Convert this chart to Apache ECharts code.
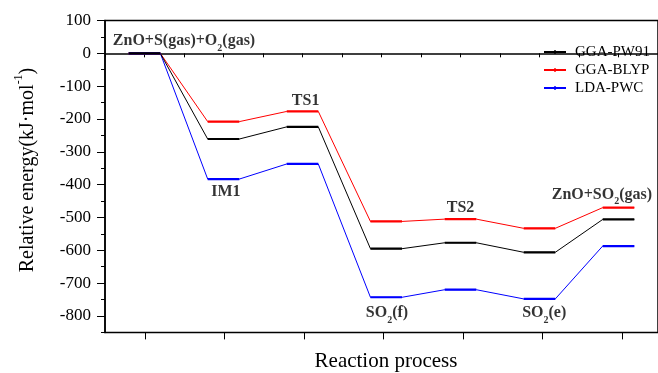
<!DOCTYPE html>
<html>
<head>
<meta charset="utf-8">
<script src="https://cdn.jsdelivr.net/npm/echarts@6/dist/echarts.min.js"></script>
<style>html,body{margin:0;padding:0;background:#fff;}#c{width:658px;height:373px;}</style>
</head>
<body>
<div id="c"></div>
<script>
// ---- data ----
const stateNames = ['ZnO+S(gas)+O2(gas)', 'IM1', 'TS1', 'SO2(f)', 'TS2', 'SO2(e)', 'ZnO+SO2(gas)'];
const stateX = [1, 2, 3, 4.06, 5, 6, 7];
const seriesNames = ['GGA-PW91', 'GGA-BLYP', 'LDA-PWC'];
const pw91 = [0, -261, -224, -595, -577, -606, -506];
const blyp = [0, -208, -177, -512, -505, -533, -470];
const pwc  = [0, -383, -337, -743, -720, -748, -587];
const annotText = ['ZnO+S(gas)+O{sub|2}(gas)', 'IM1', 'TS1', 'SO{sub|2}(f)', 'TS2', 'SO{sub|2}(e)', 'ZnO+SO{sub|2}(gas)'];
const annotX = [1.5, 2.03, 3.04, 4.07, 5, 6.06, 6.79];
const annotY = [37, -423, -144, -792, -472, -792, -430];
const yTitle = 'Relative energy(kJ·mol{sup|-1})';
const xTitle = 'Reaction process';

// ---- style ----
const FONT = '"Liberation Serif","Times New Roman",serif';
const colors = {'GGA-PW91': '#000000', 'GGA-BLYP': '#ff0000', 'LDA-PWC': '#0000ff'};
const HW = 0.2;

function segData(vals) {
  const d = [];
  vals.forEach((v, i) => {
    d.push([stateX[i] - HW, v]);
    d.push([stateX[i] + HW, v]);
    d.push([stateX[i] + HW + 0.01, '-']);
  });
  return d;
}
function connData(vals) {
  const d = [];
  vals.forEach((v, i) => {
    d.push([stateX[i] - HW, v]);
    d.push([stateX[i] + HW, v]);
  });
  return d;
}

const valueSets = {'GGA-PW91': pw91, 'GGA-BLYP': blyp, 'LDA-PWC': pwc};
const drawOrder = ['GGA-BLYP', 'LDA-PWC', 'GGA-PW91'];
const series = [];
drawOrder.forEach(name => {
  series.push({
    name: name, type: 'line', xAxisIndex: 0, yAxisIndex: 0,
    data: segData(valueSets[name]), symbol: 'none', showSymbol: false,
    connectNulls: false, lineStyle: {color: colors[name], width: 2.2}, itemStyle: {color: colors[name]},
    silent: true, z: 3
  });
  series.push({
    name: name, type: 'line', xAxisIndex: 0, yAxisIndex: 0,
    data: connData(valueSets[name]), symbol: 'none', showSymbol: false,
    lineStyle: {color: colors[name], width: 1}, itemStyle: {color: colors[name]},
    silent: true, z: 2
  });
});
series.push({
  type: 'scatter', xAxisIndex: 0, yAxisIndex: 0, symbolSize: 0, silent: true,
  data: annotX.map((x, i) => ({value: [x, annotY[i]], label: {formatter: annotText[i]}})),
  label: {
    show: true, position: 'inside', color: '#000', fontFamily: FONT, fontWeight: 'bold',
    fontSize: 16, lineHeight: 24,
    rich: {sub: {fontSize: 10, fontWeight: 'bold', fontFamily: FONT, color: '#000', verticalAlign: 'bottom', lineHeight: 10}}
  },
  z: 5
});

const axisLine = {show: true, lineStyle: {color: '#000', width: 1.5}};
const option = {
  animation: false,
  backgroundColor: '#fff',
  grid: [
    {left: 105, right: -3.5, top: 20.5, bottom: 40.6, show: true, borderColor: '#000', borderWidth: 1.5, backgroundColor: 'transparent'},
    {left: 144.75, width: 477, top: 20.5, bottom: 40.6},
    {left: 105, width: 100, top: 20.5, bottom: 57}
  ],
  xAxis: [
    {type: 'value', gridIndex: 0, min: 0.5, max: 7.5, interval: 0.5, axisLine: axisLine,
     axisTick: {show: true, length: 4, lineStyle: {color: '#000', width: 1}}, axisLabel: {show: false}, splitLine: {show: false}},
    {type: 'value', gridIndex: 1, min: 1, max: 7, interval: 1, axisLine: {show: false},
     axisTick: {show: true, length: 7, lineStyle: {color: '#000', width: 1}}, axisLabel: {show: false}, splitLine: {show: false}},
    {type: 'value', gridIndex: 2, show: false, min: 0, max: 1}
  ],
  yAxis: [
    {type: 'value', gridIndex: 0, min: -850, max: 100, interval: 50, axisLine: axisLine,
     axisTick: {show: true, length: 4, lineStyle: {color: '#000', width: 1}},
     axisLabel: {show: true, margin: 14, color: '#000', fontFamily: FONT, fontSize: 17,
       formatter: v => (Math.round(v) % 100 === 0 ? String(Math.round(v)) : '')},
     splitLine: {show: false}},
    {type: 'value', gridIndex: 1, show: false, min: 0, max: 1},
    {type: 'value', gridIndex: 2, min: -800, max: 100, interval: 100, axisLine: {show: false},
     axisTick: {show: true, length: 8, lineStyle: {color: '#000', width: 1}}, axisLabel: {show: false}, splitLine: {show: false}}
  ],
  legend: {
    data: seriesNames, orient: 'vertical', left: 544, top: 44.5, padding: 0,
    icon: 'path://M0,1.1L22,1.1L22,2.9L0,2.9Z M10.3,0L11.7,0L11.7,4L10.3,4Z',
    itemWidth: 22, itemHeight: 4, itemGap: 3,
    textStyle: {color: '#000', fontFamily: FONT, fontSize: 15, padding: [0, 0, 0, 4]}
  },
  graphic: [
    {type: 'text', x: 28, y: 170, rotation: Math.PI / 2,
     style: {text: yTitle, fontFamily: FONT, fontSize: 20, fill: '#000', align: 'center', verticalAlign: 'middle', lineHeight: 30,
       rich: {sup: {fontSize: 12, fontFamily: FONT, fill: '#000', verticalAlign: 'top', lineHeight: 12}}}},
    {type: 'text', x: 386, y: 361,
     style: {text: xTitle, fontFamily: FONT, fontSize: 21, fill: '#000', align: 'center', verticalAlign: 'middle'}}
  ],
  series: series
};
const chart = echarts.init(document.getElementById('c'), null, {renderer: 'canvas'});
chart.setOption(option);
</script>
</body>
</html>
